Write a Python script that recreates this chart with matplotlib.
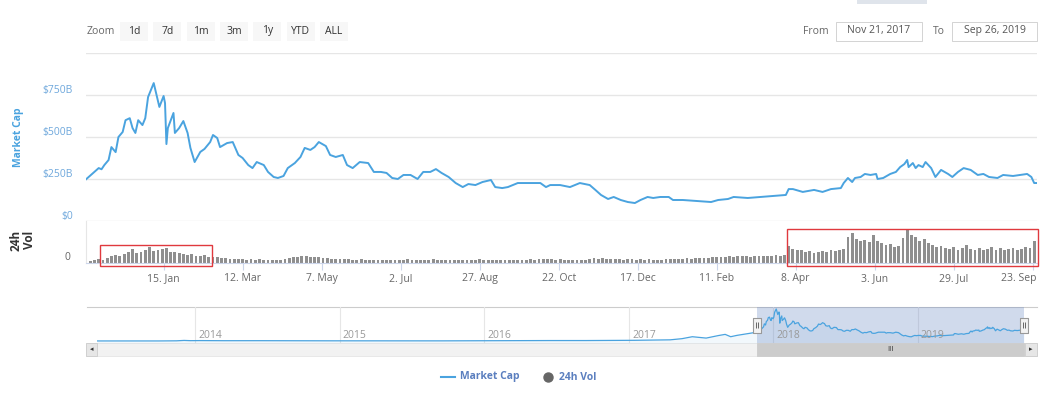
import numpy as np
import pandas as pd
import matplotlib
matplotlib.use('Agg')
import matplotlib.pyplot as plt
import matplotlib.dates as mdates
import matplotlib.transforms as mtrans
from matplotlib.patches import Rectangle
from matplotlib.path import Path

plt.rcParams['font.family'] = ['Open Sans', 'DejaVu Sans']

# range shown in the main panel
range_from = '2017-11-21'
range_to = '2019-09-26'

# total market cap ($B), day offsets from range_from
cap_days = [0, 5, 9, 11, 13, 16, 18, 21, 23, 26, 28, 31, 33, 35, 37, 40, 42, 44, 48, 50,
            52, 55, 56, 57, 58, 62, 63, 66, 69, 72, 74, 77, 81, 84, 88, 90, 93, 95, 100, 104,
            108, 111, 115, 118, 121, 126, 129, 133, 136, 140, 143, 148, 152, 155, 159, 162, 165, 170, 173, 177,
            182, 185, 189, 194, 200, 204, 209, 213, 217, 221, 225, 230, 235, 239, 244, 248, 252, 257, 262, 267,
            271, 276, 281, 287, 290, 295, 299, 306, 310, 315, 322, 326, 329, 336, 343, 350, 357, 361, 365, 370,
            374, 379, 384, 389, 393, 398, 402, 407, 413, 416, 423, 433, 443, 448, 455, 459, 469, 478, 487, 496,
            498, 501, 508, 516, 522, 528, 535, 537, 540, 543, 545, 549, 552, 556, 560, 561, 565, 570, 574, 577,
            580, 582, 583, 586, 588, 590, 593, 595, 599, 602, 606, 611, 614, 618, 622, 627, 632, 636, 640, 646,
            650, 657, 667, 670, 672, 674]
cap_values = [248, 285, 315, 308, 333, 363, 440, 410, 500, 530, 600, 612, 553, 524, 600, 571, 612, 738, 821, 750,
              679, 744, 702, 458, 553, 643, 524, 553, 595, 524, 435, 351, 411, 429, 470, 512, 494, 440, 464, 470,
              393, 375, 333, 315, 351, 333, 292, 262, 256, 268, 315, 345, 381, 435, 423, 440, 470, 446, 393, 381,
              393, 333, 315, 351, 345, 292, 292, 286, 256, 250, 274, 274, 250, 292, 292, 309, 286, 262, 226, 202,
              220, 214, 232, 244, 202, 196, 202, 226, 226, 226, 226, 202, 214, 214, 202, 226, 214, 185, 155, 131,
              143, 125, 113, 107, 125, 143, 137, 143, 143, 125, 125, 119, 113, 125, 131, 143, 137, 143, 149, 155,
              190, 190, 173, 185, 173, 190, 196, 226, 256, 232, 256, 262, 280, 274, 280, 250, 256, 280, 292, 321,
              339, 363, 321, 345, 315, 333, 321, 351, 315, 262, 304, 280, 262, 292, 315, 304, 274, 280, 262, 256,
              274, 268, 280, 262, 226, 226]

# 24h volume ($B), one bar every 3 days from range_from
vol_step = 3
vol_values = [6, 7, 9, 12, 10, 16, 20, 24, 22, 28, 32, 42, 30, 33, 38,
              48, 36, 40, 42, 44, 34, 32, 30, 27, 24, 28, 22, 20, 24, 18,
              17, 18, 15, 14, 12, 13, 12, 11, 10, 11, 10, 11, 9, 8, 9,
              8, 10, 12, 14, 17, 19, 22, 20, 18, 17, 18, 15, 14, 13, 12,
              12, 11, 12, 10, 10, 11, 9, 10, 9, 10, 9, 8, 9, 10, 9,
              10, 11, 10, 9, 10, 9, 10, 11, 10, 9, 10, 9, 10, 9, 10,
              10, 9, 10, 11, 10, 9, 10, 9, 10, 9, 10, 9, 8, 9, 10,
              11, 10, 11, 12, 11, 12, 10, 11, 10, 9, 8, 9, 10, 9, 11,
              15, 13, 14, 12, 13, 11, 12, 10, 11, 12, 10, 11, 10, 11, 10,
              9, 10, 11, 13, 12, 13, 12, 14, 13, 15, 14, 16, 15, 18, 17,
              19, 18, 20, 19, 21, 20, 21, 19, 22, 21, 20, 22, 21, 23, 22,
              24, 50, 42, 38, 40, 33, 36, 30, 33, 36, 32, 38, 35, 40, 42,
              78, 90, 72, 66, 70, 62, 84, 66, 60, 54, 58, 48, 52, 75, 100,
              84, 78, 66, 72, 60, 54, 48, 52, 45, 42, 48, 40, 45, 54, 42,
              40, 45, 38, 42, 48, 40, 44, 38, 42, 45, 40, 43, 48, 44, 66]

# navigator history before the shown range ($B)
hist_dates = ['2013-04-28', '2013-07-01', '2013-10-01', '2013-11-15', '2013-12-04', '2013-12-20',
              '2014-01-15', '2014-03-15', '2014-06-15', '2014-09-15', '2014-12-15', '2015-03-15',
              '2015-06-15', '2015-09-15', '2015-12-15', '2016-03-15', '2016-06-15', '2016-09-15',
              '2016-12-15', '2017-01-15', '2017-03-15', '2017-04-15', '2017-05-15', '2017-06-10',
              '2017-07-15', '2017-08-15', '2017-09-01', '2017-09-15', '2017-10-01', '2017-10-20',
              '2017-11-10']
hist_values = [1.6, 1.0, 1.7, 5, 15, 9, 11, 8, 8.5, 6, 5, 4, 4, 4, 7, 7.5, 12, 12, 17, 18,
               25, 30, 60, 110, 75, 140, 170, 110, 145, 175, 210]

cap_ticks = [0, 250, 500, 750]
cap_labels = ['$0', '$250B', '$500B', '$750B']
cap_grid = [0, 250, 500, 750, 1000]
tick_dates = ['2018-01-15', '2018-03-12', '2018-05-07', '2018-07-02', '2018-08-27', '2018-10-22',
              '2018-12-17', '2019-02-11', '2019-04-08', '2019-06-03', '2019-07-29', '2019-09-23']
tick_labels = ['15. Jan', '12. Mar', '7. May', '2. Jul', '27. Aug', '22. Oct',
               '17. Dec', '11. Feb', '8. Apr', '3. Jun', '29. Jul', '23. Sep']
nav_years = [2014, 2015, 2016, 2017, 2018, 2019]
highlight_spans = [('2017-12-01', '2018-02-18'), ('2019-04-02', '2019-09-27')]
highlight_tops = [54, 102]
zoom_buttons = ['1d', '7d', '1m', '3m', '1y', 'YTD', 'ALL']

LINE = '#4aa3df'
W, H = 1042, 396


def box(x0, y0, x1, y1):
    return [x0 / W, 1 - y1 / H, (x1 - x0) / W, (y1 - y0) / H]


fig = plt.figure(figsize=(W / 100, H / 100), dpi=100)

# background layer for the page chrome, in pixels
ui = fig.add_axes([0, 0, 1, 1], zorder=-1)
ui.set_xlim(0, W)
ui.set_ylim(H, 0)
ui.axis('off')

t0 = mdates.date2num(pd.Timestamp(range_from))
t1 = mdates.date2num(pd.Timestamp(range_to))

# main market cap panel
ax = fig.add_axes(box(86, 53, 1037, 221))
ax.patch.set_alpha(0)
for v in cap_grid:
    ax.axhline(v, color='#e6e6e6', lw=1, zorder=0)
ax.plot(t0 + np.array(cap_days), cap_values, color=LINE, lw=1.4, solid_joinstyle='round')
ax.set_xlim(t0, t1)
ax.set_ylim(0, 1000)
ax.axis('off')
lab_tr = mtrans.offset_copy(ax.get_yaxis_transform(), fig=fig, x=-13, y=5, units='dots')
for v, s in zip(cap_ticks, cap_labels):
    ax.text(0, v, s, transform=lab_tr, ha='right', va='center', fontsize=7.5, color='#6fa8dc')

# volume panel
axv = fig.add_axes(box(86, 221, 1037, 263))
axv.patch.set_alpha(0)
vol_x = t0 + np.arange(len(vol_values)) * vol_step
axv.bar(vol_x, vol_values, width=2.0, color='#8f8f8f', lw=0)
axv.set_xlim(t0, t1)
axv.set_ylim(0, 126)
for s in ['top', 'right']:
    axv.spines[s].set_visible(False)
axv.spines['left'].set_color('#e6e6e6')
axv.spines['bottom'].set_color('#ccd6eb')
axv.set_yticks([])
axv.set_xticks(mdates.date2num(pd.to_datetime(tick_dates)))
axv.set_xticklabels(tick_labels)
axv.tick_params(axis='x', length=5, color='#ccd6eb', labelsize=7.5, labelcolor='#666666', pad=2)
# the last label is kept inside the plot, as the page does
last = axv.get_xticklabels()[-1]
last.set_horizontalalignment('right')
last.set_transform(last.get_transform() + mtrans.ScaledTranslation(4 / 100, 0, fig.dpi_scale_trans))
zero_tr = mtrans.offset_copy(axv.get_yaxis_transform(), fig=fig, x=-16, y=6, units='dots')
axv.text(0, 0, '0', transform=zero_tr, ha='right', va='center', fontsize=7.5, color='#666666')

for (a, b), top in zip(highlight_spans, highlight_tops):
    xa = mdates.date2num(pd.Timestamp(a))
    xb = mdates.date2num(pd.Timestamp(b))
    axv.add_patch(Rectangle((xa, -10), xb - xa, top + 10, fill=False, ec='#e0393e',
                            lw=1, clip_on=False, zorder=5))

# navigator
axn = fig.add_axes(box(97, 307, 1024, 343))
axn.patch.set_alpha(0)
nav_x = np.concatenate([mdates.date2num(pd.to_datetime(hist_dates)), t0 + np.array(cap_days)])
nav_y = np.concatenate([hist_values, cap_values])
axn.set_xlim(mdates.date2num(pd.Timestamp(hist_dates[0])), t1)
axn.set_ylim(-51, 872)
for yr in nav_years:
    xy = mdates.date2num(pd.Timestamp(f'{yr}-01-01'))
    axn.axvline(xy, color='#e6e6e6', lw=0.8, zorder=0)
    yr_tr = mtrans.offset_copy(axn.get_xaxis_transform(), fig=fig, x=3, y=0, units='dots')
    axn.text(xy, 0.21, str(yr), transform=yr_tr, ha='left', va='center', fontsize=7.5, color='#999999')
axn.fill_between(nav_x, nav_y, -51, color=LINE, alpha=0.07, lw=0)
axn.plot(nav_x, nav_y, color=LINE, lw=0.9)
axn.axvspan(t0, t1, color='#6685c2', alpha=0.3, lw=0)
axn.axis('off')

# scrollbar
ui.add_patch(Rectangle((86, 343), 951, 13, fc='#f2f2f2', ec='#e6e6e6', lw=0.6))
ui.add_patch(Rectangle((86, 343), 11, 13, fc='#e6e6e6', ec='#cccccc', lw=0.6))
ui.add_patch(Rectangle((1025, 343), 12, 13, fc='#e6e6e6', ec='#cccccc', lw=0.6))
ui.text(91.5, 349.5, '◂', ha='center', va='center', fontsize=5, color='#333333', family='DejaVu Sans')
ui.text(1031, 349.5, '▸', ha='center', va='center', fontsize=5, color='#333333', family='DejaVu Sans')
ui.plot([87, 1037], [307, 307], color='#cccccc', lw=0.8)
axn.add_patch(Rectangle((t0, -13 / 36), t1 - t0, 13 / 36, transform=axn.get_xaxis_transform(),
                        fc='#cccccc', ec='#cccccc', lw=0.6, clip_on=False))
axn.text((t0 + t1) / 2, -6.5 / 36, 'III', transform=axn.get_xaxis_transform(), ha='center',
         va='center', fontsize=5.5, color='#333333', clip_on=False)
handle = Path([(-4, -7.5), (4, -7.5), (4, 7.5), (-4, 7.5), (-4, -7.5)])
grip = Path([(-1.2, -3.5), (-1.2, 3.5), (1.2, -3.5), (1.2, 3.5)],
            [Path.MOVETO, Path.LINETO, Path.MOVETO, Path.LINETO])
for hx in [t0, t1]:
    axn.plot([hx], [0.5], transform=axn.get_xaxis_transform(), marker=handle, ms=10.8,
             mfc='#f2f2f2', mec='#999999', mew=0.8, clip_on=False, zorder=6)
    axn.plot([hx], [0.5], transform=axn.get_xaxis_transform(), marker=grip, ms=5,
             mfc='none', mec='#666666', mew=0.7, clip_on=False, zorder=7)

# axis titles
ui.text(18, 137, 'Market Cap', rotation=90, ha='center', va='center', fontsize=7.5,
        fontweight='bold', color=LINE)
ui.text(23, 240, '24h\nVol', rotation=90, ha='center', va='center', fontsize=8.5,
        fontweight='bold', color='#333333', linespacing=1.0)

# range selector
ui.add_patch(Rectangle((857, 0), 70, 4, fc='#dfe4eb', lw=0))
ui.text(87, 31, 'Zoom', ha='left', va='center', fontsize=7.5, color='#666666')
for i, b in enumerate(zoom_buttons):
    bx = 120 + i * 33.3
    ui.add_patch(Rectangle((bx, 22), 28, 19, fc='#f7f7f7', lw=0))
    ui.text(bx + 14, 31, b, ha='center', va='center', fontsize=7.5, color='#333333')
ui.text(803, 31, 'From', ha='left', va='center', fontsize=7.5, color='#666666')
ui.add_patch(Rectangle((836, 22), 86, 19, fc='white', ec='#cccccc', lw=0.6))
ui.text(879, 31, 'Nov 21, 2017', ha='center', va='center', fontsize=7.5, color='#555555')
ui.text(933, 31, 'To', ha='left', va='center', fontsize=7.5, color='#666666')
ui.add_patch(Rectangle((952, 22), 85, 19, fc='white', ec='#cccccc', lw=0.6))
ui.text(994.5, 31, 'Sep 26, 2019', ha='center', va='center', fontsize=7.5, color='#555555')

# legend
ui.plot([441, 455], [377, 377], color=LINE, lw=1.5)
ui.text(460, 377, 'Market Cap', ha='left', va='center', fontsize=7.5, fontweight='bold', color='#5b7fbf')
ui.plot([548], [377], 'o', ms=6.5, color='#666666')
ui.text(559, 377, '24h Vol', ha='left', va='center', fontsize=7.5, fontweight='bold', color='#5b7fbf')

fig.savefig('out.png', dpi=100)
